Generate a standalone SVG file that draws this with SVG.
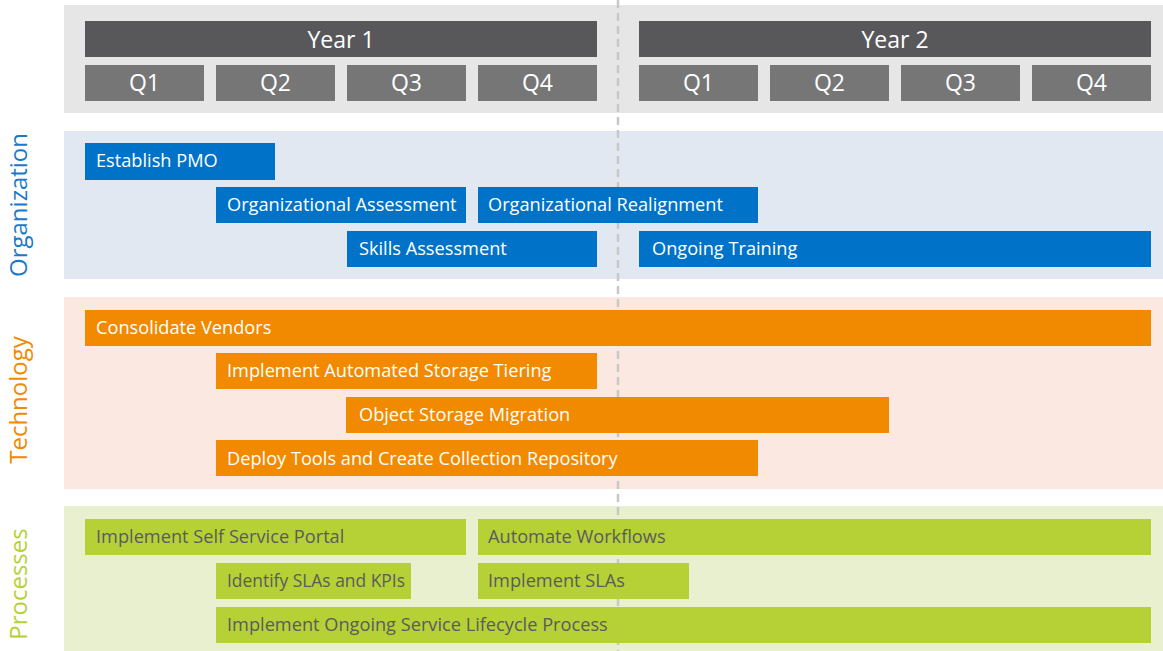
<svg xmlns="http://www.w3.org/2000/svg" width="1163" height="651" viewBox="0 0 1163 651">
<style>
.bar text,.hdr text{font-family:"Open Sans","Liberation Sans",sans-serif}
.t{font-size:18.2px;fill:#ffffff}
.tg{font-size:18.2px;fill:#5b5b5e}
.h{font-size:23px;fill:#ffffff;text-anchor:middle}
.blue{fill:#0073c8}
.orange{fill:#f28a00}
.green{fill:#b5d135}
.lbl{font-family:"Open Sans","Liberation Sans",sans-serif;font-size:24px;text-anchor:middle}
</style>
<rect x="64" y="5" width="1099" height="108" fill="#e6e6e6"/>
<rect x="64" y="131" width="1099" height="148" fill="#e1e8f2"/>
<rect x="64" y="297" width="1099" height="192" fill="#fbe9e1"/>
<rect x="64" y="506" width="1099" height="145" fill="#e9f0d0"/>
<line x1="618" y1="0" x2="618" y2="651" stroke="#c8c8c8" stroke-width="2.5" stroke-dasharray="8,5"/>
<g id="header" class="hdr">
<rect x="85" y="21" width="512" height="36" fill="#58585b"/><text class="h" x="341" y="48">Year 1</text>
<rect x="639" y="21" width="512" height="36" fill="#58585b"/><text class="h" x="895" y="48">Year 2</text>
<rect x="85" y="65" width="119" height="36" fill="#767677"/><text class="h" x="144.5" y="91">Q1</text>
<rect x="216" y="65" width="119" height="36" fill="#767677"/><text class="h" x="275.5" y="91">Q2</text>
<rect x="347" y="65" width="119" height="36" fill="#767677"/><text class="h" x="406.5" y="91">Q3</text>
<rect x="478" y="65" width="119" height="36" fill="#767677"/><text class="h" x="537.5" y="91">Q4</text>
<rect x="639" y="65" width="119" height="36" fill="#767677"/><text class="h" x="698.5" y="91">Q1</text>
<rect x="770" y="65" width="119" height="36" fill="#767677"/><text class="h" x="829.5" y="91">Q2</text>
<rect x="901" y="65" width="119" height="36" fill="#767677"/><text class="h" x="960.5" y="91">Q3</text>
<rect x="1032" y="65" width="119" height="36" fill="#767677"/><text class="h" x="1091.5" y="91">Q4</text>
</g>
<text class="lbl" fill="#1a7ac8" transform="translate(27,205) rotate(-90)">Organization</text>
<text class="lbl" fill="#f28a00" transform="translate(27,400) rotate(-90)">Technology</text>
<text class="lbl" fill="#b5d135" transform="translate(27,584) rotate(-90)">Processes</text>
<g id="establish-pmo" class="bar"><rect class="blue" x="85" y="143" width="190" height="37"/><text class="t" x="96" y="167">Establish PMO</text></g>
<g id="org-assessment" class="bar"><rect class="blue" x="216" y="187" width="250" height="36"/><text class="t" x="227" y="211">Organizational Assessment</text></g>
<g id="org-realignment" class="bar"><rect class="blue" x="478" y="187" width="280" height="36"/><text class="t" x="488" y="211">Organizational Realignment</text></g>
<g id="skills-assessment" class="bar"><rect class="blue" x="347" y="231" width="250" height="36"/><text class="t" x="359" y="255">Skills Assessment</text></g>
<g id="ongoing-training" class="bar"><rect class="blue" x="639" y="231" width="512" height="36"/><text class="t" x="652" y="255">Ongoing Training</text></g>
<g id="consolidate-vendors" class="bar"><rect class="orange" x="85" y="310" width="1066" height="36"/><text class="t" x="96" y="334">Consolidate Vendors</text></g>
<g id="storage-tiering" class="bar"><rect class="orange" x="216" y="353" width="381" height="36"/><text class="t" x="227" y="377">Implement Automated Storage Tiering</text></g>
<g id="object-storage" class="bar"><rect class="orange" x="346" y="397" width="543" height="36"/><text class="t" x="359" y="421">Object Storage Migration</text></g>
<g id="deploy-tools" class="bar"><rect class="orange" x="216" y="440" width="542" height="36"/><text class="t" x="227" y="465">Deploy Tools and Create Collection Repository</text></g>
<g id="self-service" class="bar"><rect class="green" x="85" y="519" width="381" height="36"/><text class="tg" x="96" y="543">Implement Self Service Portal</text></g>
<g id="automate-workflows" class="bar"><rect class="green" x="478" y="519" width="673" height="36"/><text class="tg" x="488" y="543">Automate Workflows</text></g>
<g id="identify-slas" class="bar"><rect class="green" x="216" y="563" width="195" height="36"/><text class="tg" x="227" y="587" textLength="178" lengthAdjust="spacingAndGlyphs">Identify SLAs and KPIs</text></g>
<g id="implement-slas" class="bar"><rect class="green" x="478" y="563" width="211" height="36"/><text class="tg" x="488" y="587">Implement SLAs</text></g>
<g id="lifecycle" class="bar"><rect class="green" x="216" y="607" width="935" height="36"/><text class="tg" x="227" y="631">Implement Ongoing Service Lifecycle Process</text></g>
<g id="connectors"/>
</svg>
